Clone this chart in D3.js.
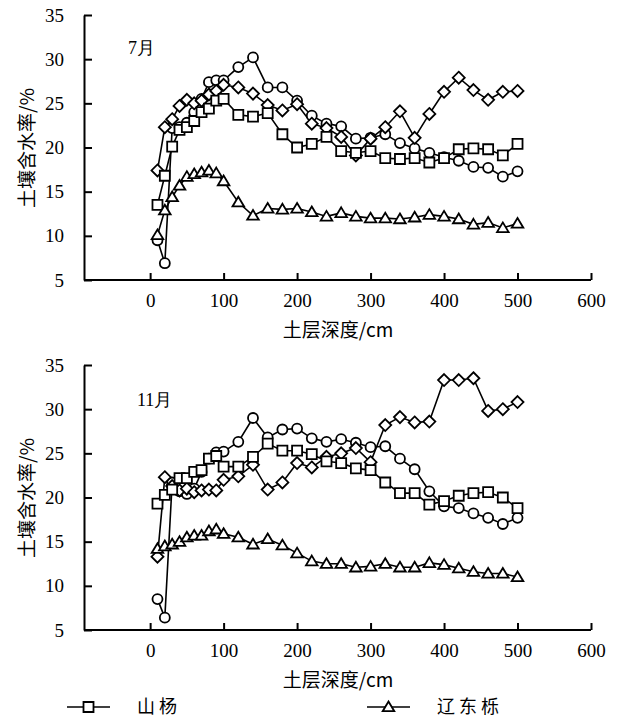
<!DOCTYPE html>
<html>
<head>
<meta charset="utf-8">
<script src="https://cdn.jsdelivr.net/npm/d3@7"></script>
<style>
  body { margin: 0; background: #fff; }
  text { fill: #000; }
</style>
</head>
<body>
<div id="chart"></div>
<script>
var svgWidth = 619;
var svgHeight = 720;

// depth (cm)
var depths = [10, 20, 30, 40, 50, 60, 70, 80, 90, 100,
  120, 140, 160, 180, 200, 220, 240, 260, 280, 300,
  320, 340, 360, 380, 400, 420, 440, 460, 480, 500];

// July
var julSquare = [13.5, 16.8, 20.1, 22.0, 22.3, 23.0, 24.0, 24.4, 25.3, 25.5,
  23.7, 23.5, 23.9, 21.5, 20.0, 20.4, 21.2, 19.6, 19.4, 19.6,
  18.8, 18.7, 18.8, 18.3, 18.8, 19.8, 19.9, 19.8, 19.1, 20.4];
var julTriangle = [10.1, 12.9, 14.4, 15.7, 16.7, 17.0, 17.2, 17.4, 17.1, 16.2,
  13.8, 12.3, 13.1, 13.0, 13.1, 12.7, 12.2, 12.6, 12.2, 12.0,
  12.0, 11.9, 12.1, 12.4, 12.2, 11.9, 11.3, 11.5, 10.9, 11.4];
var julCircle = [9.5, 6.9, 22.2, 22.3, 22.8, 24.0, 25.5, 27.4, 27.6, 27.6,
  29.1, 30.2, 26.8, 26.8, 25.3, 23.6, 22.7, 22.4, 21.0, 21.1,
  21.5, 20.5, 19.9, 19.4, 18.9, 18.5, 17.8, 17.7, 16.7, 17.3];
var julDiamond = [17.4, 22.3, 23.2, 24.7, 25.4, 25.0, 25.3, 26.0, 26.4, 27.1,
  26.8, 26.1, 24.8, 24.2, 24.9, 22.7, 22.2, 21.2, 19.1, 21.0,
  22.3, 24.1, 21.1, 23.8, 26.3, 27.9, 26.5, 25.4, 26.3, 26.4];

// November
var novSquare = [19.3, 20.3, 20.9, 22.2, 22.2, 22.9, 23.1, 24.4, 24.7, 23.5,
  23.5, 24.6, 26.1, 25.3, 25.3, 24.9, 24.1, 23.9, 23.3, 23.1,
  21.7, 20.5, 20.5, 19.2, 19.6, 20.2, 20.5, 20.6, 20.0, 18.8];
var novTriangle = [14.2, 14.5, 14.7, 15.0, 15.5, 15.7, 15.7, 16.2, 16.4, 15.9,
  15.5, 14.7, 15.3, 14.6, 13.7, 12.8, 12.5, 12.5, 12.1, 12.2,
  12.5, 12.1, 12.1, 12.6, 12.4, 12.0, 11.6, 11.4, 11.4, 11.0];
var novCircle = [8.5, 6.4, 21.7, 20.7, 20.4, 21.0, 22.9, 24.4, 25.1, 25.2,
  26.3, 29.0, 26.8, 27.7, 27.8, 26.7, 26.3, 26.6, 26.2, 25.7,
  25.8, 24.4, 23.2, 20.7, 19.0, 18.8, 18.2, 17.7, 17.0, 17.7];
var novDiamond = [13.3, 22.3, 21.3, 20.8, 21.0, 20.6, 20.8, 20.9, 20.8, 22.0,
  22.4, 23.7, 20.9, 21.7, 23.9, 23.4, 24.6, 25.0, 25.6, 24.0,
  28.2, 29.1, 28.5, 28.6, 33.3, 33.3, 33.5, 29.8, 30.0, 30.8];

var xTicks = [0, 100, 200, 300, 400, 500, 600];
var yTicks = [5, 10, 15, 20, 25, 30, 35];
var legendNames = ["山杨", "辽东栎"];

var panels = [
  { label: "7月", top: 15, series: [
    { shape: "circle", values: julCircle },
    { shape: "diamond", values: julDiamond },
    { shape: "square", values: julSquare },
    { shape: "triangle", values: julTriangle }
  ], labelPos: [128, 54] },
  { label: "11月", top: 365, series: [
    { shape: "circle", values: novCircle },
    { shape: "diamond", values: novDiamond },
    { shape: "square", values: novSquare },
    { shape: "triangle", values: novTriangle }
  ], labelPos: [137, 406] }
];

var plotLeft = 84, plotRight = 591, plotH = 265;
var serif = '"Liberation Serif", "Times New Roman", Tinos, "DejaVu Serif", "Noto Serif", serif';
var cjk = '"Noto Sans CJK SC", sans-serif';

var svg = d3.select("#chart")
  .append("svg")
  .attr("width", svgWidth)
  .attr("height", svgHeight);

var x = d3.scaleLinear().domain([-90, 600]).range([plotLeft, plotRight]);

function markerPath(shape) {
  if (shape === "square") return "M-5,-5H5V5H-5Z";
  if (shape === "circle") return "M5,0A5,5 0 1,1 -5,0A5,5 0 1,1 5,0Z";
  if (shape === "diamond") return "M0,-6L6,0L0,6L-6,0Z";
  return "M0,-5.5L5.8,4.2H-5.8Z";
}

panels.forEach(function (p) {
  var y = d3.scaleLinear().domain([5, 35]).range([p.top + plotH, p.top]);
  var g = svg.append("g");

  // axes
  var xAxis = g.append("g")
    .attr("transform", `translate(0, ${p.top + plotH})`)
    .call(d3.axisBottom(x).tickValues(xTicks).tickSizeInner(-7).tickSizeOuter(0).tickPadding(14));
  xAxis.select(".domain").attr("stroke-width", 2).attr("d", `M${plotLeft},0H${plotRight}`);
  xAxis.selectAll(".tick line").attr("stroke-width", 2);
  xAxis.selectAll("text").style("font-family", serif).style("font-size", "19px");

  var yAxis = g.append("g")
    .attr("transform", `translate(${plotLeft}, 0)`)
    .call(d3.axisLeft(y).tickValues(yTicks).tickSizeInner(-8).tickSizeOuter(0).tickPadding(20));
  yAxis.select(".domain").attr("stroke-width", 2);
  yAxis.selectAll(".tick line").attr("stroke-width", 2);
  yAxis.selectAll("text").style("font-family", serif).style("font-size", "19px");

  // axis titles
  g.append("text")
    .attr("transform", `translate(27, ${p.top + 133}) rotate(-90)`)
    .attr("text-anchor", "middle")
    .attr("dy", "0.35em")
    .style("font-family", cjk)
    .style("font-size", "19px")
    .text("土壤含水率/%");

  g.append("text")
    .attr("x", 338)
    .attr("y", p.top + plotH + 57)
    .attr("text-anchor", "middle")
    .style("font-family", cjk)
    .style("font-size", "19px")
    .text("土层深度/cm");

  g.append("text")
    .attr("x", p.labelPos[0])
    .attr("y", p.labelPos[1])
    .style("font-family", serif)
    .style("font-size", "18px")
    .text(p.label);

  var line = d3.line()
    .x(function (d, i) { return x(depths[i]); })
    .y(function (d) { return y(d); });

  p.series.forEach(function (s) {
    g.append("path")
      .attr("d", line(s.values))
      .attr("fill", "none")
      .attr("stroke", "#000")
      .attr("stroke-width", 1.6);
  });

  p.series.forEach(function (s) {
    g.append("g").selectAll("path")
      .data(s.values)
      .enter()
      .append("path")
      .attr("transform", function (d, i) { return `translate(${x(depths[i])}, ${y(d)})`; })
      .attr("d", markerPath(s.shape))
      .attr("fill", "#fff")
      .attr("stroke", "#000")
      .attr("stroke-width", 1.8);
  });
});

// legend
var legend = [
  { shape: "square", name: legendNames[0], x0: 67 },
  { shape: "triangle", name: legendNames[1], x0: 367 }
];
legend.forEach(function (l) {
  svg.append("line")
    .attr("x1", l.x0).attr("x2", l.x0 + 43)
    .attr("y1", 707).attr("y2", 707)
    .attr("stroke", "#000").attr("stroke-width", 1.6);
  svg.append("path")
    .attr("transform", `translate(${l.x0 + 21.5}, 707)`)
    .attr("d", markerPath(l.shape))
    .attr("fill", "#fff").attr("stroke", "#000").attr("stroke-width", 1.8);
  svg.append("text")
    .attr("x", l.x0 + 70)
    .attr("y", 707)
    .attr("dy", "0.35em")
    .style("font-family", cjk)
    .style("font-size", "18px")
    .attr("letter-spacing", 4)
    .text(l.name);
});
</script>
</body>
</html>
